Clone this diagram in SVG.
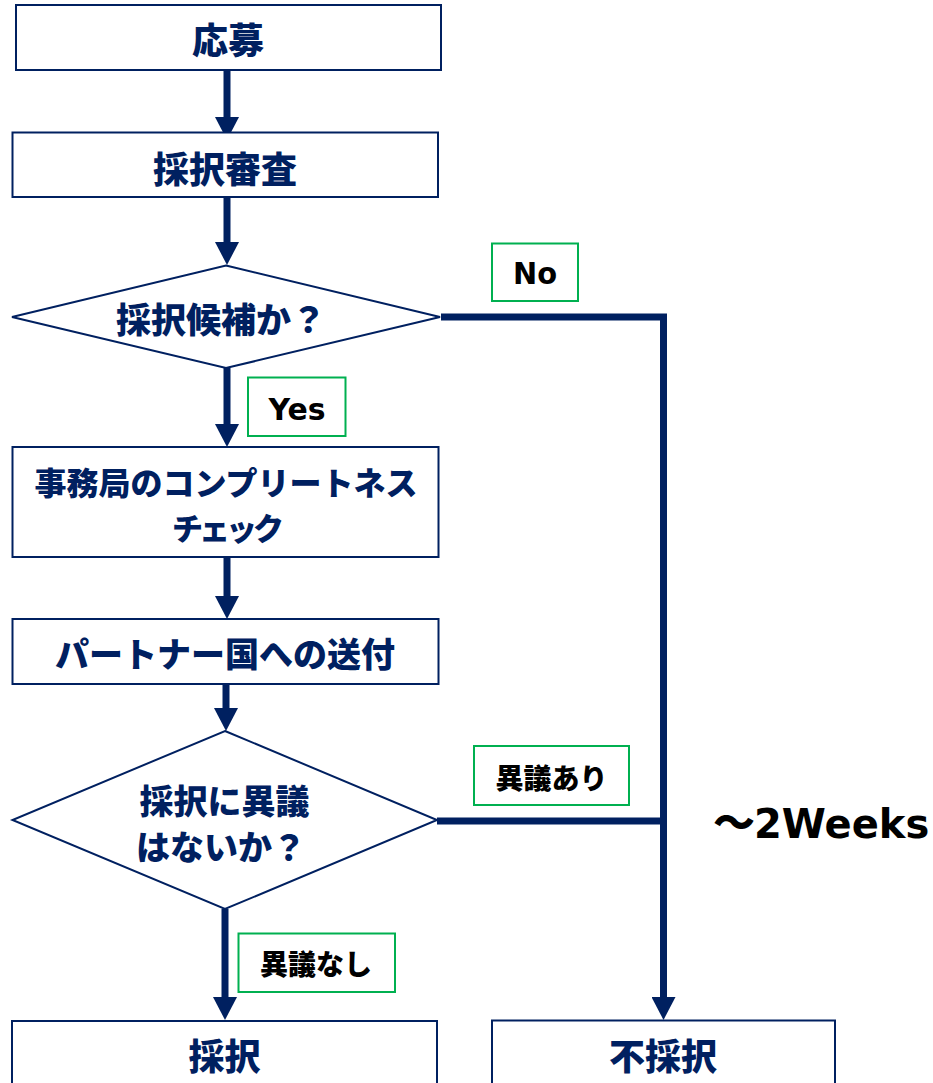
<svg xmlns="http://www.w3.org/2000/svg" width="933" height="1083" viewBox="0 0 933 1083">
<style>
.box{fill:#fff;stroke:#002060;stroke-width:2}
.lbl{fill:#fff;stroke:#00B050;stroke-width:2}
.conn{fill:none;stroke:#002060;stroke-width:7}
.jt{font-family:"Noto Sans CJK JP","Noto Sans CJK SC",sans-serif;font-weight:900;fill:#002060;text-anchor:middle;dominant-baseline:central}
.jl{font-family:"Noto Sans CJK JP","Noto Sans CJK SC",sans-serif;font-weight:900;fill:#000;text-anchor:middle;dominant-baseline:central;font-size:28px}
.el{font-family:"DejaVu Sans","Liberation Sans",sans-serif;font-weight:bold;fill:#000;text-anchor:middle;font-size:30px}
</style>
<defs>
<marker id="ah" markerUnits="userSpaceOnUse" markerWidth="24" markerHeight="24" refX="0" refY="12" orient="auto" viewBox="0 0 24 24">
<path d="M0,0 L23,12 L0,24 z" fill="#002060"/>
</marker>
</defs>
<rect width="933" height="1083" fill="#fff"/>
<g id="connectors">
<path class="conn" d="M227,70 V117" marker-end="url(#ah)"/>
<path class="conn" d="M227,197 V242" marker-end="url(#ah)"/>
<path class="conn" d="M227,368 V424" marker-end="url(#ah)"/>
<path class="conn" d="M227,557 V596" marker-end="url(#ah)"/>
<path class="conn" d="M226,684 V708" marker-end="url(#ah)"/>
<path class="conn" d="M225,909 V997" marker-end="url(#ah)"/>
<path class="conn" d="M441,317 H663.5 V997" marker-end="url(#ah)"/>
<path class="conn" d="M437,821 H663.5"/>
</g>
<g id="n-oubo">
<rect class="box" x="16" y="5" width="425" height="65"/>
<text class="jt" x="228" y="37.5" font-size="36">応募</text>
</g>
<g id="n-shinsa">
<rect class="box" x="12.5" y="132.5" width="425.5" height="64.5"/>
<text class="jt" x="225" y="166.5" font-size="36">採択審査</text>
</g>
<g id="n-kouho">
<polygon class="box" points="226,265.5 440,317 226,368 12,317"/>
<text class="jt" x="221" y="317.5" font-size="35">採択候補か？</text>
</g>
<g id="l-no">
<rect class="lbl" x="492" y="243.5" width="86" height="57.5"/>
<text class="el" x="535" y="284" textLength="44" lengthAdjust="spacingAndGlyphs">No</text>
</g>
<g id="l-yes">
<rect class="lbl" x="248" y="377.5" width="97.5" height="58.5"/>
<text class="el" x="297" y="420" textLength="57" lengthAdjust="spacingAndGlyphs">Yes</text>
</g>
<g id="n-check">
<rect class="box" x="12.5" y="447" width="426" height="110"/>
<text class="jt" x="226" y="480.5" font-size="32">事務局のコンプリートネス</text>
<text class="jt" x="226" y="526.5" font-size="31" letter-spacing="-4">チェック</text>
</g>
<g id="n-send">
<rect class="box" x="12.5" y="619" width="426" height="65"/>
<text class="jt" x="225" y="652" font-size="34">パートナー国への送付</text>
</g>
<g id="n-igi">
<polygon class="box" points="225,731 437,820 225,909 12.5,820"/>
<text class="jt" x="224.5" y="799.5" font-size="34">採択に異議</text>
<text class="jt" x="221" y="845" font-size="34">はないか？</text>
</g>
<g id="l-ari">
<rect class="lbl" x="474" y="746" width="155" height="59"/>
<text class="jl" x="551.5" y="777">異議あり</text>
</g>
<g id="l-nashi">
<rect class="lbl" x="238.5" y="933.5" width="156.5" height="58.5"/>
<text class="jl" x="316" y="963">異議なし</text>
</g>
<g id="n-saitaku">
<rect class="box" x="12" y="1021" width="425" height="70"/>
<text class="jt" x="224.5" y="1054" font-size="36">採択</text>
</g>
<g id="n-fusaitaku">
<rect class="box" x="492" y="1020.5" width="343" height="70"/>
<text class="jt" x="663" y="1054" font-size="36">不採択</text>
</g>
<g id="t-weeks">
<text x="713" y="838" font-family="Noto Sans CJK JP,Noto Sans CJK SC,sans-serif" font-weight="900" font-size="42" fill="#000">～</text>
<text x="754" y="838" font-family="DejaVu Sans,Liberation Sans,sans-serif" font-weight="bold" font-size="40" fill="#000">2Weeks</text>
</g>
</svg>
